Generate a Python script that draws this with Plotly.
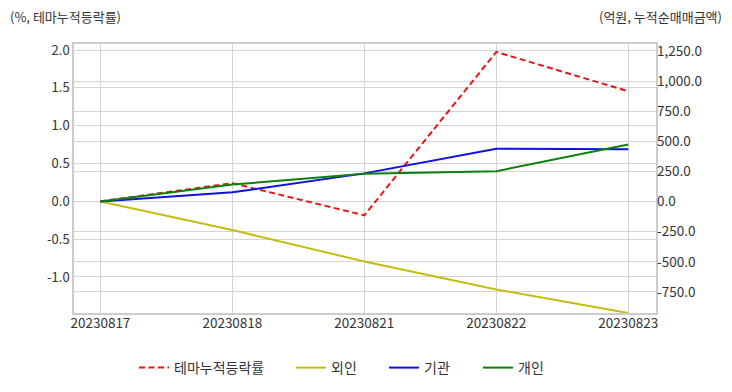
import plotly.graph_objects as go

dates = ["20230817", "20230818", "20230821", "20230822", "20230823"]
theme_rate = [0.0, 0.24, -0.185, 1.975, 1.455]
foreign = [0.0, -236.0, -497.0, -730.0, -925.0]
institution = [0.0, 77.0, 234.0, 438.0, 434.0]
individual = [0.0, 141.0, 230.0, 252.0, 473.0]

left_ticks = [-1.0, -0.5, 0.0, 0.5, 1.0, 1.5, 2.0]
right_ticks = [-750, -500, -250, 0, 250, 500, 750, 1000, 1250]
left_labels = [f"{v:.1f}" for v in left_ticks]
right_labels = [f"{v:,.1f}" for v in right_ticks]

FONT = "Noto Sans CJK KR, Noto Sans, sans-serif"
GRID = "#d4d4d4"
TXT = "#333333"

OFF = 8  # page offset of the figure (body margin)
W, H = 732, 392
# plot area in page pixels
PL, PR, PT, PB = 74, 656, 44, 313
# same in figure pixels
FL, FR, FT, FB = PL - OFF, PR - OFF, PT - OFF, PB - OFF


def px_x(p):
    return (p - PL) / (PR - PL)


def px_y(p):
    return (PB - p) / (PB - PT)


fig = go.Figure()
fig.add_trace(go.Scatter(x=dates, y=theme_rate, name="테마누적등락률", mode="lines",
                         legend="legend",
                         line=dict(color="#e81414", width=2, dash="6px,3.5px")))
fig.add_trace(go.Scatter(x=dates, y=foreign, name="외인", mode="lines", yaxis="y2",
                         legend="legend2",
                         line=dict(color="#c3bd10", width=2)))
fig.add_trace(go.Scatter(x=dates, y=institution, name="기관", mode="lines", yaxis="y2",
                         legend="legend3",
                         line=dict(color="#1010e6", width=2)))
fig.add_trace(go.Scatter(x=dates, y=individual, name="개인", mode="lines", yaxis="y2",
                         legend="legend4",
                         line=dict(color="#0c800c", width=2)))

leg_common = dict(orientation="h", xanchor="left", yanchor="middle", y=px_y(368),
                  font=dict(size=14, color=TXT), itemwidth=30,
                  bgcolor="rgba(0,0,0,0)", borderwidth=0)

fig.update_layout(
    width=W, height=H,
    margin=dict(l=FL, r=W - FR, t=FT, b=H - FB, autoexpand=False),
    paper_bgcolor="white", plot_bgcolor="white",
    font=dict(family=FONT, size=13, color=TXT),
    showlegend=True,
    legend=dict(x=px_x(134), **leg_common),
    legend2=dict(x=px_x(291), **leg_common),
    legend3=dict(x=px_x(384), **leg_common),
    legend4=dict(x=px_x(478), **leg_common),
    xaxis=dict(type="category", range=[-0.2, 4.21], showgrid=True, gridcolor=GRID,
               showline=True, mirror=True, linecolor="#cccccc", linewidth=1.5,
               ticks="", tickfont=dict(size=13.5), zeroline=False, automargin=False,
               ticklabelstandoff=-3),
    yaxis=dict(range=[-1.476, 2.08], tickvals=left_ticks, ticktext=left_labels,
               showgrid=True, gridcolor=GRID, zeroline=False,
               showline=True, mirror=True, linecolor="#cccccc", linewidth=1.5,
               ticks="", tickfont=dict(size=13), automargin=False),
    yaxis2=dict(range=[-925, 1308], tickvals=right_ticks, ticktext=right_labels,
                overlaying="y", side="right", showgrid=True, gridcolor=GRID,
                zeroline=False, ticks="", tickfont=dict(size=13.5), automargin=False),
    annotations=[
        dict(text="(%, 테마누적등락률)", xref="paper", yref="paper", x=px_x(8), y=px_y(16),
             xanchor="left", yanchor="middle", showarrow=False, font=dict(size=13, color=TXT)),
        dict(text="(억원, 누적순매매금액)", xref="paper", yref="paper", x=px_x(724), y=px_y(16),
             xanchor="right", yanchor="middle", showarrow=False, font=dict(size=13, color=TXT)),
    ],
)

fig.write_html("out.html")
